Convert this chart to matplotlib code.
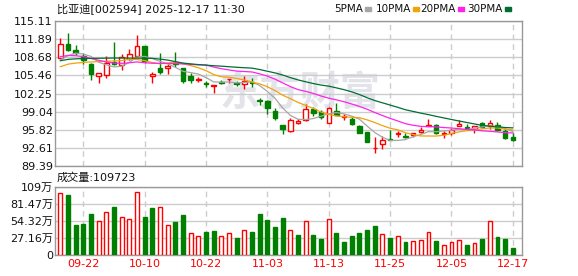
import numpy as np
import matplotlib
matplotlib.use('Agg')
import matplotlib.pyplot as plt
from matplotlib.patches import Rectangle

plt.rcParams['font.family'] = ['DejaVu Sans', 'Noto Sans CJK SC']

# BYD daily k-line, 2025-09-17 .. 2025-12-17
dates = ['09-17', '09-18', '09-19', '09-22', '09-23', '09-24', '09-25', '09-26', '09-29', '09-30',
         '10-09', '10-10', '10-13', '10-14', '10-15', '10-16', '10-17', '10-20', '10-21', '10-22',
         '10-23', '10-24', '10-27', '10-28', '10-29', '10-30', '10-31', '11-03', '11-04', '11-05',
         '11-06', '11-07', '11-10', '11-11', '11-12', '11-13', '11-14', '11-17', '11-18', '11-19',
         '11-20', '11-21', '11-24', '11-25', '11-26', '11-27', '11-28', '12-01', '12-02', '12-03',
         '12-04', '12-05', '12-08', '12-09', '12-10', '12-11', '12-12', '12-15', '12-16', '12-17']

opens = [108.49, 110.97, 109.97, 108.96, 107.42, 105.29, 105.47, 107.80, 107.25, 108.43,
         108.84, 110.68, 105.29, 106.83, 106.71, 107.78, 106.77, 105.41, 104.73, 104.11,
         103.52, 104.29, 104.76, 104.11, 103.88, 104.23, 101.04, 100.92, 99.15, 96.60,
         95.66, 97.08, 97.55, 99.44, 98.91, 97.08, 99.15, 98.08, 97.67, 96.54,
         95.36, 92.52, 93.29, 94.10, 95.13, 94.65, 94.83, 95.48, 96.55, 96.66,
         95.12, 95.18, 96.49, 96.31, 95.89, 96.96, 96.49, 96.66, 95.60, 94.47]
highs = [112.03, 112.92, 110.85, 109.37, 107.60, 105.83, 108.90, 111.38, 109.26, 110.08,
         112.63, 110.68, 106.12, 109.37, 107.54, 109.55, 106.80, 105.83, 105.24, 104.53,
         103.70, 104.59, 104.82, 104.53, 105.35, 104.94, 101.51, 101.10, 99.62, 96.60,
         97.85, 97.67, 100.33, 99.91, 99.32, 99.80, 100.62, 98.61, 98.02, 96.60,
         95.40, 94.48, 94.71, 95.78, 95.66, 95.18, 95.18, 96.37, 97.73, 96.84,
         95.60, 96.07, 97.55, 96.78, 96.49, 97.25, 97.55, 97.13, 95.89, 95.18]
lows = [108.49, 109.80, 109.02, 107.42, 104.70, 104.17, 105.06, 107.25, 106.48, 108.13,
        108.72, 107.70, 104.17, 105.77, 105.65, 106.89, 104.20, 104.17, 104.35, 103.46,
        102.28, 103.88, 104.17, 103.64, 103.11, 103.46, 100.21, 98.67, 97.55, 95.01,
        95.48, 96.84, 97.43, 98.32, 97.67, 96.96, 98.38, 97.55, 96.66, 95.18,
        93.59, 91.76, 92.35, 93.95, 94.60, 94.42, 94.59, 95.18, 96.49, 95.01,
        94.42, 94.95, 96.49, 95.78, 95.18, 96.07, 95.89, 95.66, 94.18, 93.88]
closes = [110.97, 109.91, 109.37, 108.13, 105.77, 105.83, 107.60, 107.50, 108.72, 109.20,
          110.62, 108.01, 105.77, 106.12, 107.13, 107.48, 104.41, 104.64, 104.82, 103.99,
          103.70, 104.17, 104.82, 103.99, 104.47, 104.11, 100.92, 99.62, 97.84, 95.89,
          97.55, 97.43, 99.44, 98.73, 98.02, 99.74, 98.44, 98.20, 96.78, 95.30,
          93.71, 92.64, 94.00, 93.96, 95.24, 94.53, 95.18, 95.78, 96.66, 95.18,
          95.24, 95.78, 96.78, 96.19, 96.49, 96.37, 96.96, 95.78, 94.42, 94.00]

ma5 = [108.20, 108.95, 109.40, 109.25, 108.83, 107.80, 107.34, 106.97, 107.08, 107.77,
       108.73, 108.83, 108.46, 107.94, 107.53, 106.90, 106.18, 105.96, 105.70, 105.07,
       104.31, 104.26, 104.30, 104.13, 104.23, 104.31, 103.66, 102.62, 101.39, 99.68,
       98.36, 97.67, 97.63, 97.81, 98.23, 98.67, 98.87, 98.63, 98.24, 97.69,
       96.49, 95.33, 94.49, 93.93, 93.92, 94.07, 94.60, 94.96, 95.48, 95.47,
       95.61, 95.73, 95.93, 95.83, 96.10, 96.32, 96.56, 96.36, 96.00, 95.51]
ma10 = [107.00, 107.45, 107.65, 107.75, 107.85, 107.92, 107.97, 108.02, 108.10, 108.31,
        108.28, 108.09, 107.73, 107.52, 107.66, 107.83, 107.51, 107.21, 106.82, 106.30,
        105.61, 105.22, 105.13, 104.92, 104.65, 104.31, 103.96, 103.46, 102.76, 101.95,
        101.34, 100.66, 100.13, 99.60, 98.96, 98.52, 98.27, 98.13, 98.02, 97.96,
        97.58, 97.10, 96.56, 96.09, 95.81, 95.29, 94.96, 94.72, 94.71, 94.70,
        94.85, 95.16, 95.44, 95.66, 95.78, 95.97, 96.14, 96.14, 95.92, 95.80]
ma20 = [108.77, 109.00, 108.95, 108.80, 108.45, 108.15, 107.85, 107.65, 107.60, 107.70,
        107.85, 107.70, 107.62, 107.60, 107.58, 107.55, 107.50, 107.42, 107.33, 107.30,
        106.94, 106.65, 106.43, 106.22, 106.15, 106.07, 105.73, 105.34, 104.79, 104.13,
        103.47, 102.94, 102.63, 102.26, 101.80, 101.42, 101.12, 100.79, 100.39, 99.96,
        99.46, 98.88, 98.34, 97.84, 97.38, 96.90, 96.62, 96.42, 96.37, 96.33,
        96.21, 96.13, 96.00, 95.87, 95.80, 95.63, 95.55, 95.43, 95.31, 95.25]
ma30 = [108.06, 108.30, 108.40, 108.45, 108.48, 108.50, 108.52, 108.54, 108.54, 108.54,
        108.52, 108.50, 108.48, 108.35, 108.18, 107.90, 107.65, 107.50, 107.38, 107.28,
        107.18, 107.10, 107.00, 106.90, 106.82, 106.75, 106.50, 106.20, 105.90, 105.52,
        105.07, 104.66, 104.33, 104.01, 103.75, 103.55, 103.25, 102.93, 102.54, 102.07,
        101.51, 101.00, 100.60, 100.20, 99.80, 99.37, 99.07, 98.77, 98.50, 98.20,
        97.92, 97.64, 97.37, 97.11, 96.85, 96.59, 96.46, 96.33, 96.22, 96.15]

# volume in 万手, and whether each volume bar is drawn red (up vs previous close)
volume = [99.6, 95.4, 47.7, 49.3, 65.2, 55.1, 69.4, 76.3, 61.5, 57.2,
          101.2, 60.4, 74.7, 77.4, 47.2, 52.5, 63.6, 34.4, 29.7, 36.6,
          38.2, 30.2, 34.4, 27.0, 39.2, 36.6, 65.2, 55.6, 44.5, 58.8,
          39.2, 31.8, 55.1, 31.8, 25.4, 58.3, 35.0, 20.7, 30.2, 35.0,
          39.7, 46.1, 32.9, 27.0, 29.7, 20.7, 21.7, 23.3, 36.0, 22.3,
          15.4, 20.1, 23.3, 15.9, 18.5, 25.4, 55.1, 28.6, 25.4, 10.97]
vol_up = [1, 0, 0, 0, 0, 1, 1, 0, 1, 1,
          1, 0, 0, 1, 1, 0, 0, 1, 1, 0,
          0, 1, 1, 0, 1, 0, 0, 0, 0, 0,
          1, 0, 1, 0, 0, 1, 0, 0, 0, 0,
          0, 0, 1, 0, 1, 0, 1, 1, 1, 0,
          1, 1, 1, 0, 1, 0, 1, 0, 0, 0]

price_ticks = [115.11, 111.89, 108.68, 105.46, 102.25, 99.04, 95.82, 92.61, 89.39]
vol_ticks = [108.63, 81.47, 54.32, 27.16, 0]
vol_labels = ['109万', '81.47万', '54.32万', '27.16万', '0']
date_ticks = [3, 11, 19, 27, 35, 43, 51, 59]

RED = '#ff0000'
GREEN = '#008000'
ma_colors = ['#a6a6a6', '#f0a30a', '#ff22ee', '#006e33']
W, H = 578, 276


def box(l, t, r, b):
    return [l / W, 1 - b / H, (r - l) / W, (b - t) / H]


fig = plt.figure(figsize=(W / 100, H / 100), dpi=100)
ax = fig.add_axes(box(55, 21, 522, 166))
axv = fig.add_axes(box(55, 187, 522, 255))

x = np.arange(len(dates))
o = np.array(opens)
c = np.array(closes)
hi = np.array(highs)
lo = np.array(lows)
up = c >= o
top = np.maximum(o, c)
bot = np.minimum(o, c)
col = np.where(up, RED, GREEN)

# watermark
ax.text(0.525, 0.5, '东方财富', transform=ax.transAxes, fontsize=29, fontweight='bold',
        color='#e3e3ea', ha='center', va='center', zorder=0,
        family=['Noto Sans CJK SC'])

# candles
ax.vlines(x, lo, bot, colors=col, lw=1, zorder=2)
ax.vlines(x, top, hi, colors=col, lw=1, zorder=2)
ax.bar(x[up], (c - o)[up], bottom=o[up], width=0.58, facecolor='white',
       edgecolor=RED, lw=1, zorder=3)
ax.bar(x[~up], (o - c)[~up], bottom=c[~up], width=0.58, facecolor=GREEN,
       edgecolor=GREEN, lw=1, zorder=3)

for ma, mc in zip([ma5, ma10, ma20, ma30], ma_colors):
    ax.plot(x, ma, color=mc, lw=0.9, zorder=4)

# volume
vu = np.array(vol_up, dtype=bool)
v = np.array(volume)
axv.bar(x[vu], v[vu], width=0.5, facecolor='white', edgecolor=RED, lw=1, zorder=3)
axv.bar(x[~vu], v[~vu], width=0.5, facecolor=GREEN, edgecolor=GREEN, lw=1, zorder=3)

for a in (ax, axv):
    a.set_xlim(-0.69, 60.2)
    a.set_xticks(date_ticks)
    a.grid(axis='y', color='#cccccc', lw=1, ls='-', zorder=0)
    a.grid(axis='x', color='#cccccc', lw=1, ls=(0, (4, 3)), zorder=0)
    a.set_axisbelow(True)
    for s in a.spines.values():
        s.set_color('#999999')
        s.set_linewidth(1)
    a.tick_params(length=0, labelsize=8, pad=1.5, labelcolor='#111111')

ax.set_ylim(89.39, 115.11)
ax.set_yticks(price_ticks)
ax.set_yticklabels([f'{t:.2f}' for t in price_ticks])
ax.set_xticklabels([])

axv.set_ylim(0, 108.63)
axv.set_yticks(vol_ticks)
axv.set_yticklabels(vol_labels)
axv.set_xticklabels([dates[i] for i in date_ticks])
axv.tick_params(axis='x', labelcolor=RED, pad=3)

# header texts
fig.text(57 / W, 1 - 8.5 / H, '比亚迪[002594] 2025-12-17 11:30', fontsize=8,
         va='center', ha='left', color='#111111')
fig.text(57 / W, 1 - 177.5 / H, '成交量:109723', fontsize=8,
         va='center', ha='left', color='#111111')

legend_names = ['5PMA', '10PMA', '20PMA', '30PMA']
square_x = [365, 413, 458, 505]
for name, sx, mc in zip(legend_names, square_x, ma_colors):
    fig.text((sx - 2) / W, 1 - 8.5 / H, name, fontsize=7.5, va='center', ha='right',
             color='#111111')
    fig.patches.append(Rectangle((sx / W, 1 - 11 / H), 6 / W, 4 / H,
                                 transform=fig.transFigure, color=mc, figure=fig))

fig.savefig('out.png', dpi=100)
